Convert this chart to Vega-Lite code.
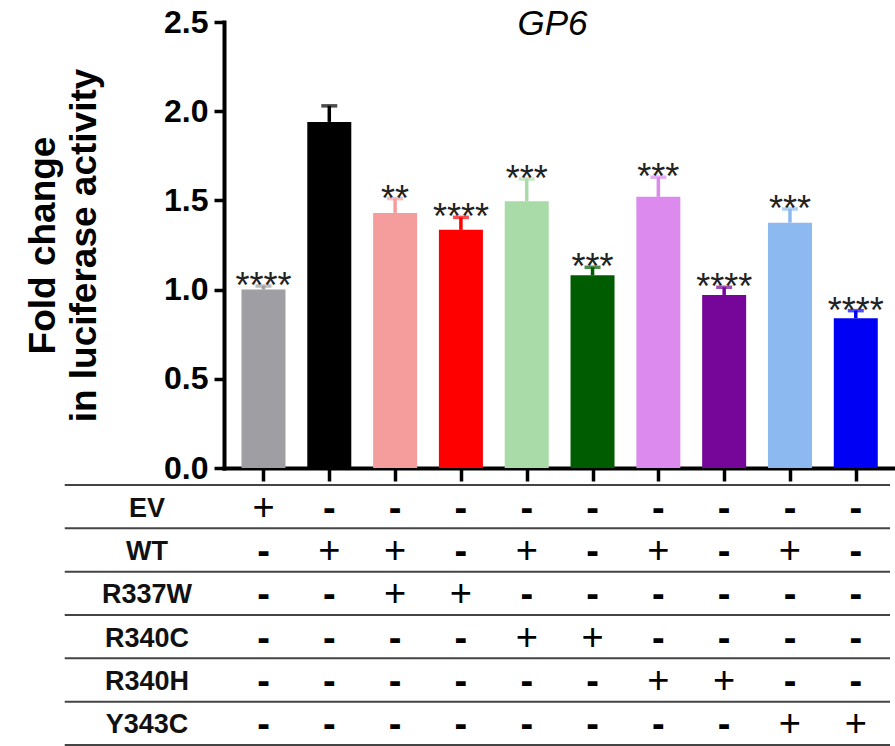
{
  "$schema": "https://vega.github.io/schema/vega-lite/v6.json",
  "width": 671,
  "height": 446,
  "autosize": {"type": "none"},
  "padding": {"left": 224, "top": 22, "right": 0, "bottom": 278},
  "background": "white",
  "config": {
    "view": {"stroke": null},
    "font": "Liberation Sans",
    "text": {"font": "Liberation Sans"}
  },
  "title": {
    "text": "GP6",
    "font": "Liberation Sans",
    "fontSize": 35,
    "fontStyle": "italic",
    "fontWeight": "normal",
    "color": "#000000",
    "anchor": "middle",
    "baseline": "alphabetic",
    "offset": -64,
    "dx": -7
  },
  "datasets": {
    "bars": [
      {"bar": 1, "group": "EV", "mean": 1.0, "upper": 1.02, "sig": "****"},
      {"bar": 2, "group": "WT", "mean": 1.94, "upper": 2.03, "sig": ""},
      {"bar": 3, "group": "WT+R337W", "mean": 1.43, "upper": 1.51, "sig": "**"},
      {"bar": 4, "group": "R337W", "mean": 1.335, "upper": 1.405, "sig": "****"},
      {"bar": 5, "group": "WT+R340C", "mean": 1.495, "upper": 1.62, "sig": "***"},
      {"bar": 6, "group": "R340C", "mean": 1.08, "upper": 1.125, "sig": "***"},
      {"bar": 7, "group": "WT+R340H", "mean": 1.52, "upper": 1.63, "sig": "***"},
      {"bar": 8, "group": "R340H", "mean": 0.97, "upper": 1.013, "sig": "****"},
      {"bar": 9, "group": "WT+Y343C", "mean": 1.375, "upper": 1.452, "sig": "***"},
      {"bar": 10, "group": "Y343C", "mean": 0.84, "upper": 0.882, "sig": "****"}
    ],
    "rows": [
      {"row": "EV"}, {"row": "WT"}, {"row": "R337W"}, {"row": "R340C"}, {"row": "R340H"}, {"row": "Y343C"}
    ],
    "cells": [
      {"row": "EV", "bar": 1, "sign": "+"}, {"row": "EV", "bar": 2, "sign": "-"}, {"row": "EV", "bar": 3, "sign": "-"}, {"row": "EV", "bar": 4, "sign": "-"}, {"row": "EV", "bar": 5, "sign": "-"},
      {"row": "EV", "bar": 6, "sign": "-"}, {"row": "EV", "bar": 7, "sign": "-"}, {"row": "EV", "bar": 8, "sign": "-"}, {"row": "EV", "bar": 9, "sign": "-"}, {"row": "EV", "bar": 10, "sign": "-"},
      {"row": "WT", "bar": 1, "sign": "-"}, {"row": "WT", "bar": 2, "sign": "+"}, {"row": "WT", "bar": 3, "sign": "+"}, {"row": "WT", "bar": 4, "sign": "-"}, {"row": "WT", "bar": 5, "sign": "+"},
      {"row": "WT", "bar": 6, "sign": "-"}, {"row": "WT", "bar": 7, "sign": "+"}, {"row": "WT", "bar": 8, "sign": "-"}, {"row": "WT", "bar": 9, "sign": "+"}, {"row": "WT", "bar": 10, "sign": "-"},
      {"row": "R337W", "bar": 1, "sign": "-"}, {"row": "R337W", "bar": 2, "sign": "-"}, {"row": "R337W", "bar": 3, "sign": "+"}, {"row": "R337W", "bar": 4, "sign": "+"}, {"row": "R337W", "bar": 5, "sign": "-"},
      {"row": "R337W", "bar": 6, "sign": "-"}, {"row": "R337W", "bar": 7, "sign": "-"}, {"row": "R337W", "bar": 8, "sign": "-"}, {"row": "R337W", "bar": 9, "sign": "-"}, {"row": "R337W", "bar": 10, "sign": "-"},
      {"row": "R340C", "bar": 1, "sign": "-"}, {"row": "R340C", "bar": 2, "sign": "-"}, {"row": "R340C", "bar": 3, "sign": "-"}, {"row": "R340C", "bar": 4, "sign": "-"}, {"row": "R340C", "bar": 5, "sign": "+"},
      {"row": "R340C", "bar": 6, "sign": "+"}, {"row": "R340C", "bar": 7, "sign": "-"}, {"row": "R340C", "bar": 8, "sign": "-"}, {"row": "R340C", "bar": 9, "sign": "-"}, {"row": "R340C", "bar": 10, "sign": "-"},
      {"row": "R340H", "bar": 1, "sign": "-"}, {"row": "R340H", "bar": 2, "sign": "-"}, {"row": "R340H", "bar": 3, "sign": "-"}, {"row": "R340H", "bar": 4, "sign": "-"}, {"row": "R340H", "bar": 5, "sign": "-"},
      {"row": "R340H", "bar": 6, "sign": "-"}, {"row": "R340H", "bar": 7, "sign": "+"}, {"row": "R340H", "bar": 8, "sign": "+"}, {"row": "R340H", "bar": 9, "sign": "-"}, {"row": "R340H", "bar": 10, "sign": "-"},
      {"row": "Y343C", "bar": 1, "sign": "-"}, {"row": "Y343C", "bar": 2, "sign": "-"}, {"row": "Y343C", "bar": 3, "sign": "-"}, {"row": "Y343C", "bar": 4, "sign": "-"}, {"row": "Y343C", "bar": 5, "sign": "-"},
      {"row": "Y343C", "bar": 6, "sign": "-"}, {"row": "Y343C", "bar": 7, "sign": "-"}, {"row": "Y343C", "bar": 8, "sign": "-"}, {"row": "Y343C", "bar": 9, "sign": "+"}, {"row": "Y343C", "bar": 10, "sign": "+"}
    ]
  },
  "resolve": {"scale": {"y": "independent"}, "axis": {"y": "independent"}},
  "layer": [
    {
      "data": {"name": "bars"},
      "encoding": {
        "x": {
          "field": "bar", "type": "quantitative",
          "scale": {"domain": [0.476, 10.52], "nice": false, "zero": false},
          "axis": {
            "values": [1, 2, 3, 4, 5, 6, 7, 8, 9, 10],
            "labels": false, "title": null, "grid": false,
            "tickSize": 13, "tickWidth": 3.5, "tickColor": "#000000",
            "domainWidth": 4, "domainColor": "#000000", "domainCap": "square"
          }
        },
        "color": {
          "field": "group", "type": "nominal", "legend": null,
          "scale": {
            "domain": ["EV", "WT", "WT+R337W", "R337W", "WT+R340C", "R340C", "WT+R340H", "R340H", "WT+Y343C", "Y343C"],
            "range": ["#9e9ea3", "#000000", "#f59d9d", "#ff0000", "#a9dba9", "#005c00", "#dd8aee", "#76069a", "#8cb9f0", "#0000f5"]
          }
        }
      },
      "layer": [
        {
          "mark": {"type": "bar", "size": 44},
          "encoding": {
            "y": {
              "field": "mean", "type": "quantitative",
              "scale": {"domain": [0, 2.5], "nice": false, "zero": true},
              "axis": {
                "values": [0, 0.5, 1, 1.5, 2, 2.5], "format": ".1f", "grid": false,
                "labelFont": "Liberation Sans", "labelFontSize": 32, "labelFontWeight": "bold", "labelColor": "#000000",
                "labelPadding": 6, "tickSize": 10, "tickWidth": 3.5, "tickColor": "#000000",
                "domainWidth": 4, "domainColor": "#000000", "domainCap": "square",
                "title": ["Fold change", "in luciferase activity"],
                "titleFont": "Liberation Sans", "titleFontSize": 37, "titleFontWeight": "bold", "titleColor": "#000000",
                "titleLineHeight": 41, "titlePadding": 60
              }
            }
          }
        },
        {
          "mark": {"type": "rule", "strokeWidth": 3.5},
          "encoding": {
            "y": {"field": "mean", "type": "quantitative"},
            "y2": {"field": "upper"}
          }
        },
        {
          "mark": {"type": "tick", "orient": "horizontal", "size": 16, "thickness": 3.5},
          "encoding": {
            "y": {"field": "upper", "type": "quantitative"}
          }
        },
        {
          "mark": {"type": "text", "font": "Liberation Sans", "fontSize": 36, "baseline": "alphabetic", "align": "center", "dy": 12, "color": "#222222"},
          "encoding": {
            "y": {"field": "upper", "type": "quantitative"},
            "text": {"field": "sig"},
            "color": {"value": "#222222"}
          }
        }
      ]
    },
    {
      "encoding": {
        "y": {
          "field": "row", "type": "nominal", "axis": null,
          "scale": {"type": "band", "domain": ["EV", "WT", "R337W", "R340C", "R340H", "Y343C"], "range": [463, 723], "paddingInner": 0, "paddingOuter": 0}
        }
      },
      "layer": [
        {
          "data": {"name": "rows"},
          "mark": {"type": "rule", "strokeWidth": 2, "color": "#444444"},
          "encoding": {
            "y": {"field": "row", "type": "nominal", "bandPosition": 0},
            "x": {"datum": -2.02},
            "x2": {"datum": 10.52}
          }
        },
        {
          "data": {"name": "rows"},
          "transform": [{"filter": "datum.row === 'Y343C'"}],
          "mark": {"type": "rule", "strokeWidth": 2, "color": "#444444"},
          "encoding": {
            "y": {"field": "row", "type": "nominal", "bandPosition": 1},
            "x": {"datum": -2.02},
            "x2": {"datum": 10.52}
          }
        },
        {
          "data": {"name": "rows"},
          "mark": {"type": "text", "font": "Liberation Sans", "fontSize": 27, "fontWeight": "bold", "align": "center", "baseline": "middle", "dy": 2, "color": "#111111"},
          "encoding": {
            "y": {"field": "row", "type": "nominal", "bandPosition": 0.5},
            "x": {"datum": -0.77},
            "text": {"field": "row"}
          }
        },
        {
          "data": {"name": "cells"},
          "transform": [{"filter": "datum.sign === '+'"}],
          "mark": {"type": "text", "font": "Liberation Sans", "fontSize": 38, "fontWeight": "normal", "align": "center", "baseline": "middle", "dy": 2, "color": "#000000"},
          "encoding": {
            "y": {"field": "row", "type": "nominal", "bandPosition": 0.5},
            "x": {"field": "bar", "type": "quantitative"},
            "text": {"field": "sign"}
          }
        },
        {
          "data": {"name": "cells"},
          "transform": [{"filter": "datum.sign === '-'"}],
          "mark": {"type": "text", "font": "Liberation Sans", "fontSize": 38, "fontWeight": "bold", "align": "center", "baseline": "middle", "dy": 3, "color": "#000000"},
          "encoding": {
            "y": {"field": "row", "type": "nominal", "bandPosition": 0.5},
            "x": {"field": "bar", "type": "quantitative"},
            "text": {"field": "sign"}
          }
        }
      ]
    }
  ]
}
